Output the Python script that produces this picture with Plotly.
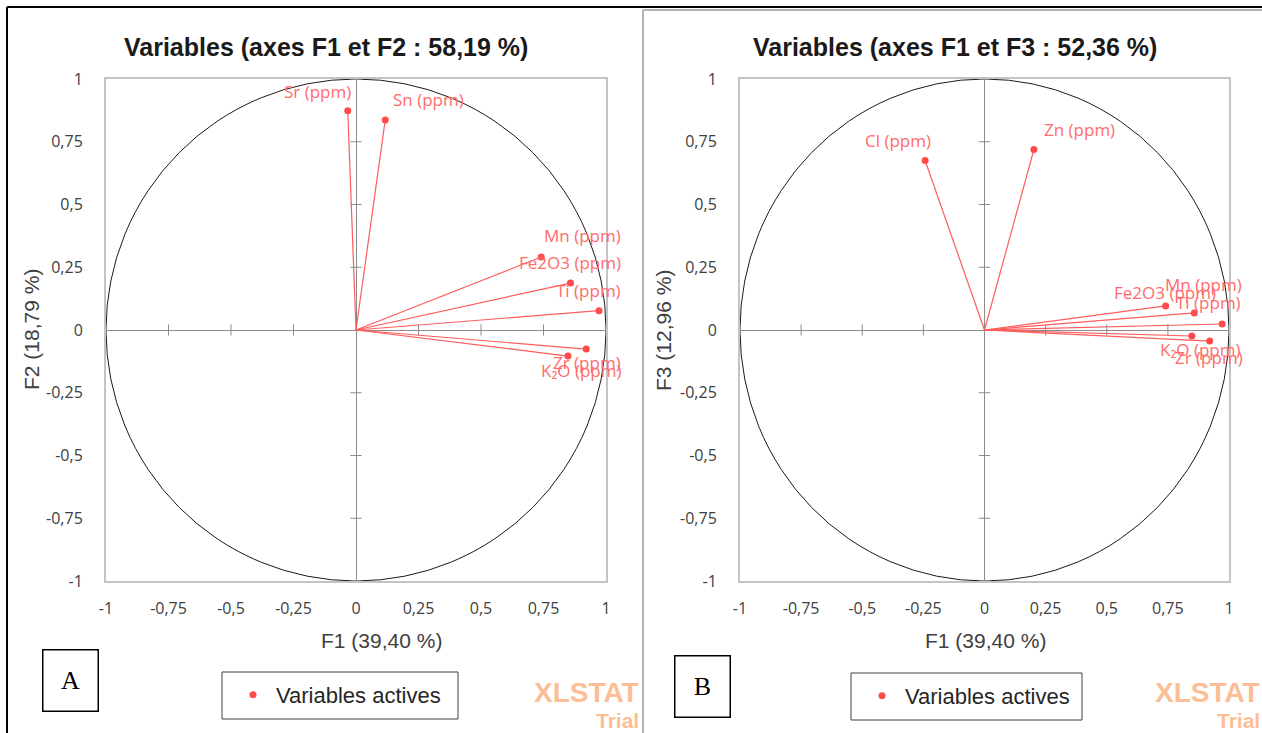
import plotly.graph_objects as go

# ---- Correlation circle data -------------------------------------------
# Panel A : axes F1 / F2
vars_a = ["Sr (ppm)", "Sn (ppm)", "Mn (ppm)", "Fe2O3 (ppm)", "Ti (ppm)", "Zr (ppm)", "K₂O (ppm)"]
f1_a = [-0.033, 0.117, 0.741, 0.858, 0.972, 0.921, 0.848]
f2_a = [0.874, 0.837, 0.291, 0.187, 0.077, -0.076, -0.104]

# Panel B : axes F1 / F3
vars_b = ["Cl (ppm)", "Zn (ppm)", "Mn (ppm)", "Fe2O3 (ppm)", "Ti (ppm)", "K₂O (ppm)", "Zr (ppm)"]
f1_b = [-0.243, 0.202, 0.741, 0.858, 0.972, 0.848, 0.921]
f3_b = [0.675, 0.719, 0.096, 0.068, 0.024, -0.024, -0.044]

tick_vals = [-1, -0.75, -0.5, -0.25, 0, 0.25, 0.5, 0.75, 1]
tick_text = ["-1", "-0,75", "-0,5", "-0,25", "0", "0,25", "0,5", "0,75", "1"]

# label placement (pixel shifts from each point)
shift_a = [(-30, 19), (43, 20), (41, 21), (-1, 21), (-11, 20), (1, -13), (13, -14)]
shift_b = [(-27, 20), (46, 20), (38, 21), (-29, 20), (-14, 21), (9, -13), (-1, -16)]

W, H = 1262, 733
RED = "#FF4B4B"
LINE_RED = "#FF5C5C"
LABEL_RED = "#FF6B6B"
TXT = "#404040"
NARROW = "Liberation Sans Narrow, Arial Narrow, Liberation Sans, Arial"
SANS = "Open Sans, Noto Sans, sans-serif"


def px(x):
    return x / W


def py(y):
    return 1 - y / H


fig = go.Figure()


def add_panel(names, xs, ys, shifts, xa, ya, legend_name):
    # rays from the origin
    lx, ly = [], []
    for x, y in zip(xs, ys):
        lx += [0, x, None]
        ly += [0, y, None]
    fig.add_trace(go.Scatter(x=lx, y=ly, mode="lines", xaxis=xa, yaxis=ya,
                             line=dict(color=LINE_RED, width=1.2),
                             showlegend=False, hoverinfo="skip"))
    # tick marks across the zero lines
    tv = [t for t in tick_vals if t != 0]
    fig.add_trace(go.Scatter(x=[0] * len(tv), y=tv, mode="markers", xaxis=xa, yaxis=ya,
                             marker=dict(symbol="line-ew", size=8,
                                         line=dict(color="#8C8C8C", width=1)),
                             showlegend=False, hoverinfo="skip"))
    fig.add_trace(go.Scatter(x=tv, y=[0] * len(tv), mode="markers", xaxis=xa, yaxis=ya,
                             marker=dict(symbol="line-ns", size=8,
                                         line=dict(color="#8C8C8C", width=1)),
                             showlegend=False, hoverinfo="skip"))
    # variable points
    fig.add_trace(go.Scatter(x=xs, y=ys, mode="markers", xaxis=xa, yaxis=ya,
                             name="Variables actives", legend=legend_name,
                             marker=dict(color=RED, size=7),
                             text=names, hoverinfo="text+x+y"))
    for n, x, y, (dx, dy) in zip(names, xs, ys, shifts):
        fig.add_annotation(x=x, y=y, xref=xa, yref=ya, text=n, showarrow=False,
                           xanchor="center", yanchor="middle",
                           xshift=dx, yshift=dy,
                           font=dict(family=SANS, size=17, color=LABEL_RED))
    # unit circle
    fig.add_shape(type="circle", xref=xa, yref=ya, x0=-1, y0=-1, x1=1, y1=1,
                  line=dict(color="#1A1A1A", width=1), layer="below")


add_panel(vars_a, f1_a, f2_a, shift_a, "x", "y", "legend")
add_panel(vars_b, f1_b, f3_b, shift_b, "x2", "y2", "legend2")

ydom = [py(581), py(79)]
axis_common = dict(range=[-1, 1], tickvals=tick_vals, ticktext=tick_text,
                   showgrid=False, zeroline=True, zerolinecolor="#8C8C8C",
                   zerolinewidth=1, showline=True, mirror=True, automargin=False,
                   linecolor="#C4C4C4", linewidth=2, ticks="", fixedrange=True,
                   tickfont=dict(family=SANS, size=16, color=TXT))

legend_common = dict(xanchor="left", yanchor="middle", borderwidth=0,
                     bgcolor="rgba(0,0,0,0)", itemwidth=36,
                     font=dict(family=NARROW, size=22, color="#262626"))

fig.update_layout(
    template="none",
    width=W, height=H, autosize=False,
    margin=dict(l=0, r=0, t=0, b=0, pad=0, autoexpand=False),
    paper_bgcolor="white", plot_bgcolor="white",
    xaxis=dict(domain=[px(106), px(606)], anchor="y", ticklabelstandoff=12, **axis_common),
    yaxis=dict(domain=ydom, anchor="x", ticklabelstandoff=18, **axis_common),
    xaxis2=dict(domain=[px(740), px(1229)], anchor="y2", ticklabelstandoff=12, **axis_common),
    yaxis2=dict(domain=ydom, anchor="x2", ticklabelstandoff=18, **axis_common),
    legend=dict(x=px(230), y=py(695), **legend_common),
    legend2=dict(x=px(859), y=py(696), **legend_common),
    showlegend=True,
)

# legend frames
for x0, y0, x1, y1 in [(222, 672, 458, 719), (851, 673, 1082, 720)]:
    fig.add_shape(type="rect", xref="paper", yref="paper",
                  x0=px(x0), x1=px(x1), y0=py(y1), y1=py(y0),
                  line=dict(color="#404040", width=1), fillcolor="white", layer="below")

# panel titles
for txt, cx in [("Variables (axes F1 et F2 : 58,19 %)", 326),
                ("Variables (axes F1 et F3 : 52,36 %)", 955)]:
    fig.add_annotation(x=px(cx), y=py(47), xref="paper", yref="paper", text=f"<b>{txt}</b>",
                       xanchor="center", yanchor="middle",
                       showarrow=False, font=dict(family=NARROW, size=25, color="#1A1A1A"))

# axis titles
for txt, cx in [("F1 (39,40 %)", 381), ("F1 (39,40 %)", 985)]:
    fig.add_annotation(x=px(cx), y=py(640), xref="paper", yref="paper", text=txt,
                       xanchor="center", yanchor="middle",
                       showarrow=False, font=dict(family=NARROW, size=21, color=TXT))
for txt, cx in [("F2 (18,79 %)", 31), ("F3 (12,96 %)", 663)]:
    fig.add_annotation(x=px(cx), y=py(330), xref="paper", yref="paper", text=txt,
                       xanchor="center", yanchor="middle",
                       textangle=-90, showarrow=False,
                       font=dict(family=NARROW, size=21, color=TXT))

# panel letters
for txt, cx, cy in [("A", 70, 680), ("B", 702, 686)]:
    fig.add_annotation(x=px(cx), y=py(cy), xref="paper", yref="paper", text=txt,
                       xanchor="center", yanchor="middle",
                       showarrow=False, width=52, height=58, bordercolor="black",
                       borderwidth=1.5, bgcolor="white",
                       font=dict(family="Liberation Serif, Times New Roman, serif",
                                 size=26, color="black"))

# watermark
for rx in [641, 1262]:
    fig.add_annotation(x=px(rx), y=py(692), xref="paper", yref="paper", text="<b>XLSTAT</b>",
                       xanchor="right", yanchor="middle", showarrow=False,
                       font=dict(family=NARROW, size=28, color="#FBBE96"))
    fig.add_annotation(x=px(rx), y=py(720), xref="paper", yref="paper", text="<b>Trial</b>",
                       xanchor="right", yanchor="middle", showarrow=False,
                       font=dict(family=NARROW, size=21, color="#FBBE96"))

# outer frame and panel separator
fig.add_shape(type="line", xref="paper", yref="paper", x0=px(7), x1=1, y0=py(7), y1=py(7),
              line=dict(color="black", width=2))
fig.add_shape(type="line", xref="paper", yref="paper", x0=px(7), x1=px(7), y0=0, y1=py(7),
              line=dict(color="black", width=2))
fig.add_shape(type="line", xref="paper", yref="paper", x0=px(643), x1=px(643), y0=0, y1=py(10),
              line=dict(color="#B4B4B4", width=2))
fig.add_shape(type="line", xref="paper", yref="paper", x0=px(643), x1=1, y0=py(10), y1=py(10),
              line=dict(color="#B4B4B4", width=2))

fig.write_html("out.html", config={"displayModeBar": False})
